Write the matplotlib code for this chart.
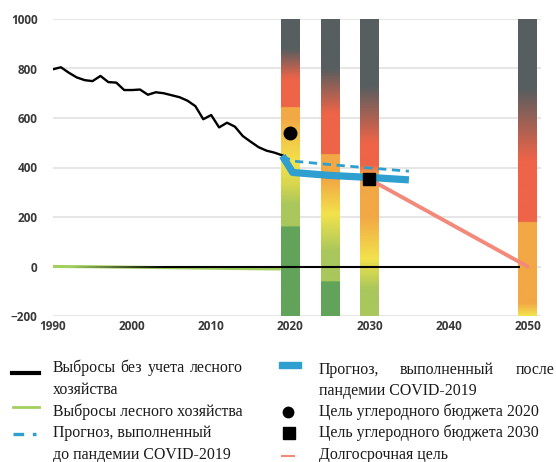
import numpy as np
import matplotlib
matplotlib.use("Agg")
import matplotlib.pyplot as plt
from matplotlib.colors import LinearSegmentedColormap
from matplotlib.collections import LineCollection
from matplotlib.lines import Line2D
from matplotlib.patches import Rectangle

# emissions without forestry, 1990-2019
hist_years = np.arange(1990, 2020)
hist_vals = [797, 805, 783, 764, 753, 749, 770, 745, 743, 713,
             713, 715, 694, 704, 700, 692, 684, 670, 648, 595,
             612, 562, 581, 565, 527, 504, 482, 468, 460, 449]

# forestry emissions
forest_years = [1990, 1995, 2000, 2005, 2010, 2015, 2018.8]
forest_vals = [0, -1, -3, -5, -7, -9, -10]

# forecast after COVID (thick band) and before COVID (dashed)
post_years = [2019, 2020.3, 2025, 2030, 2035]
post_vals = [447, 380, 368, 360, 350]
pre_years = [2019, 2020.3, 2025, 2030, 2035]
pre_vals = [447, 426, 412, 398, 385]

# carbon budget targets and long-term target
target_2020 = (2020, 541)
target_2030 = (2030, 353)
longterm_years = [2030, 2050]
longterm_vals = [353, 0]

# gradient bars: (value, colour) stops from bottom to top
bar_years = [2020, 2025, 2030, 2050]
DG, RD, OR, YL, LG, GR = '#575e60', '#ee6448', '#f2a845', '#f2e24c', '#a9c75c', '#62a35a'
bar_stops = [
    [(-200, GR), (160, GR), (160, LG), (250, LG), (330, '#d6d64f'), (420, YL),
     (520, '#f3c648'), (600, OR), (644, OR), (644, RD), (760, RD), (880, DG), (1000, DG)],
    [(-200, GR), (-62, GR), (-62, LG), (60, LG), (210, YL), (350, OR), (455, OR),
     (455, RD), (620, RD), (800, DG), (1000, DG)],
    [(-200, LG), (-95, LG), (30, YL), (200, OR), (370, OR), (410, RD), (500, RD),
     (730, DG), (1000, DG)],
    [(-200, YL), (-150, OR), (180, OR), (180, RD), (430, RD), (720, DG), (1000, DG)],
]

y_ticks = [-200, 0, 200, 400, 600, 800, 1000]
x_ticks = [1990, 2000, 2010, 2020, 2030, 2040, 2050]

W, H = 556, 462
fig = plt.figure(figsize=(W / 100, H / 100), dpi=100)
ax = fig.add_axes([53 / W, (H - 316) / H, (541 - 53) / W, (316 - 19) / H])
ax.set_xlim(1990, 2051.7)
ax.set_ylim(-200, 1000)

for s in ax.spines.values():
    s.set_visible(False)
ax.set_yticks(y_ticks)
ax.set_xticks(x_ticks)
ax.yaxis.grid(True, color='#e2e2e2', lw=1.2, zorder=0)
ax.set_axisbelow(True)
ax.tick_params(length=0, labelsize=8.5, colors='#3a3a3a')
ax.tick_params(axis='y', pad=11)
ax.tick_params(axis='x', pad=3)
for lab in ax.get_xticklabels() + ax.get_yticklabels():
    lab.set_fontfamily('Open Sans')
    lab.set_fontweight('bold')

# gradient bars
bar_w = 2.35
for yr, stops in zip(bar_years, bar_stops):
    lo, hi = -200, 1000
    pos = [(v - lo) / (hi - lo) for v, _ in stops]
    cmap = LinearSegmentedColormap.from_list('b', list(zip(pos, [c for _, c in stops])), N=512)
    grad = np.linspace(0, 1, 600).reshape(-1, 1)
    ax.imshow(grad, cmap=cmap, origin='lower', aspect='auto',
              extent=(yr - bar_w / 2, yr + bar_w / 2, lo, hi), zorder=2)
ax.set_xlim(1990, 2051.7)
ax.set_ylim(-200, 1000)

# forestry line
ax.plot(forest_years, forest_vals, color='#a3cf5f', lw=2.2, zorder=3, solid_capstyle='butt')

# zero line, fading in at the start
xs = np.linspace(1990, 2049, 120)
segs = [[(xs[i], 0), (xs[i + 1], 0)] for i in range(len(xs) - 1)]
alphas = np.clip((xs[:-1] - 1992) / 12, 0, 1)
cols = [(0, 0, 0, a) for a in alphas]
ax.add_collection(LineCollection(segs, colors=cols, lw=1.5, zorder=4))

# historical emissions
ax.plot(hist_years, hist_vals, color='black', lw=1.7, zorder=5)

# long-term target
ax.plot(longterm_years, longterm_vals, color='#f2897a', lw=2.8, zorder=5, solid_capstyle='round')

# forecasts
ax.plot(post_years, post_vals, color='#2e9fcf', lw=5.2, zorder=6, solid_capstyle='butt')
ax.plot(pre_years, pre_vals, color='#2e9fcf', lw=2.0, ls=(0, (3, 2)), zorder=7)

# targets
ax.plot(*target_2020, marker='o', ms=9, color='black', zorder=8)
ax.plot(*target_2030, marker='s', ms=9, color='black', zorder=8)

# legend drawn in pixel coordinates
lax = fig.add_axes([0, 0, 1, 1], facecolor='none')
lax.set_xlim(0, W)
lax.set_ylim(H, 0)
lax.axis('off')

tkw = dict(fontfamily='Liberation Serif', fontsize=11.4, color='#1a1a1a', va='center', ha='left')

lax.add_line(Line2D([12, 39], [373, 373], color='black', lw=3))
for word, x in zip(['Выбросы', 'без', 'учета', 'лесного'], [53, 120, 148, 190]):
    lax.text(x, 368, word, **tkw)
lax.text(53, 390, 'хозяйства', **tkw)
lax.add_line(Line2D([13, 39], [407, 407], color='#a3cf5f', lw=2))
lax.text(53, 412, 'Выбросы лесного хозяйства', **tkw)
lax.add_line(Line2D([13, 36], [434, 434], color='#2e9fcf', lw=2.4, ls=(0, (3.2, 2.6))))
lax.text(53, 433, 'Прогноз, выполненный', **tkw)
lax.text(53, 455, 'до пандемии COVID-2019', **tkw)

lax.add_patch(Rectangle((279, 362), 22, 6, color='#2e9fcf'))
for word, x in zip(['Прогноз,', 'выполненный', 'после'], [319, 400, 516]):
    lax.text(x, 370, word, **tkw)
lax.text(319, 391, 'пандемии COVID-2019', **tkw)
lax.add_line(Line2D([288], [412], marker='o', ms=7.5, color='black'))
lax.text(319, 412, 'Цель углеродного бюджета 2020', **tkw)
lax.add_line(Line2D([288.5], [433], marker='s', ms=8, color='black'))
lax.text(319, 433, 'Цель углеродного бюджета 2030', **tkw)
lax.add_line(Line2D([282, 294], [456, 456], color='#f2897a', lw=1.5))
lax.text(319, 455, 'Долгосрочная цель', **tkw)

fig.savefig('out.png', dpi=100)
